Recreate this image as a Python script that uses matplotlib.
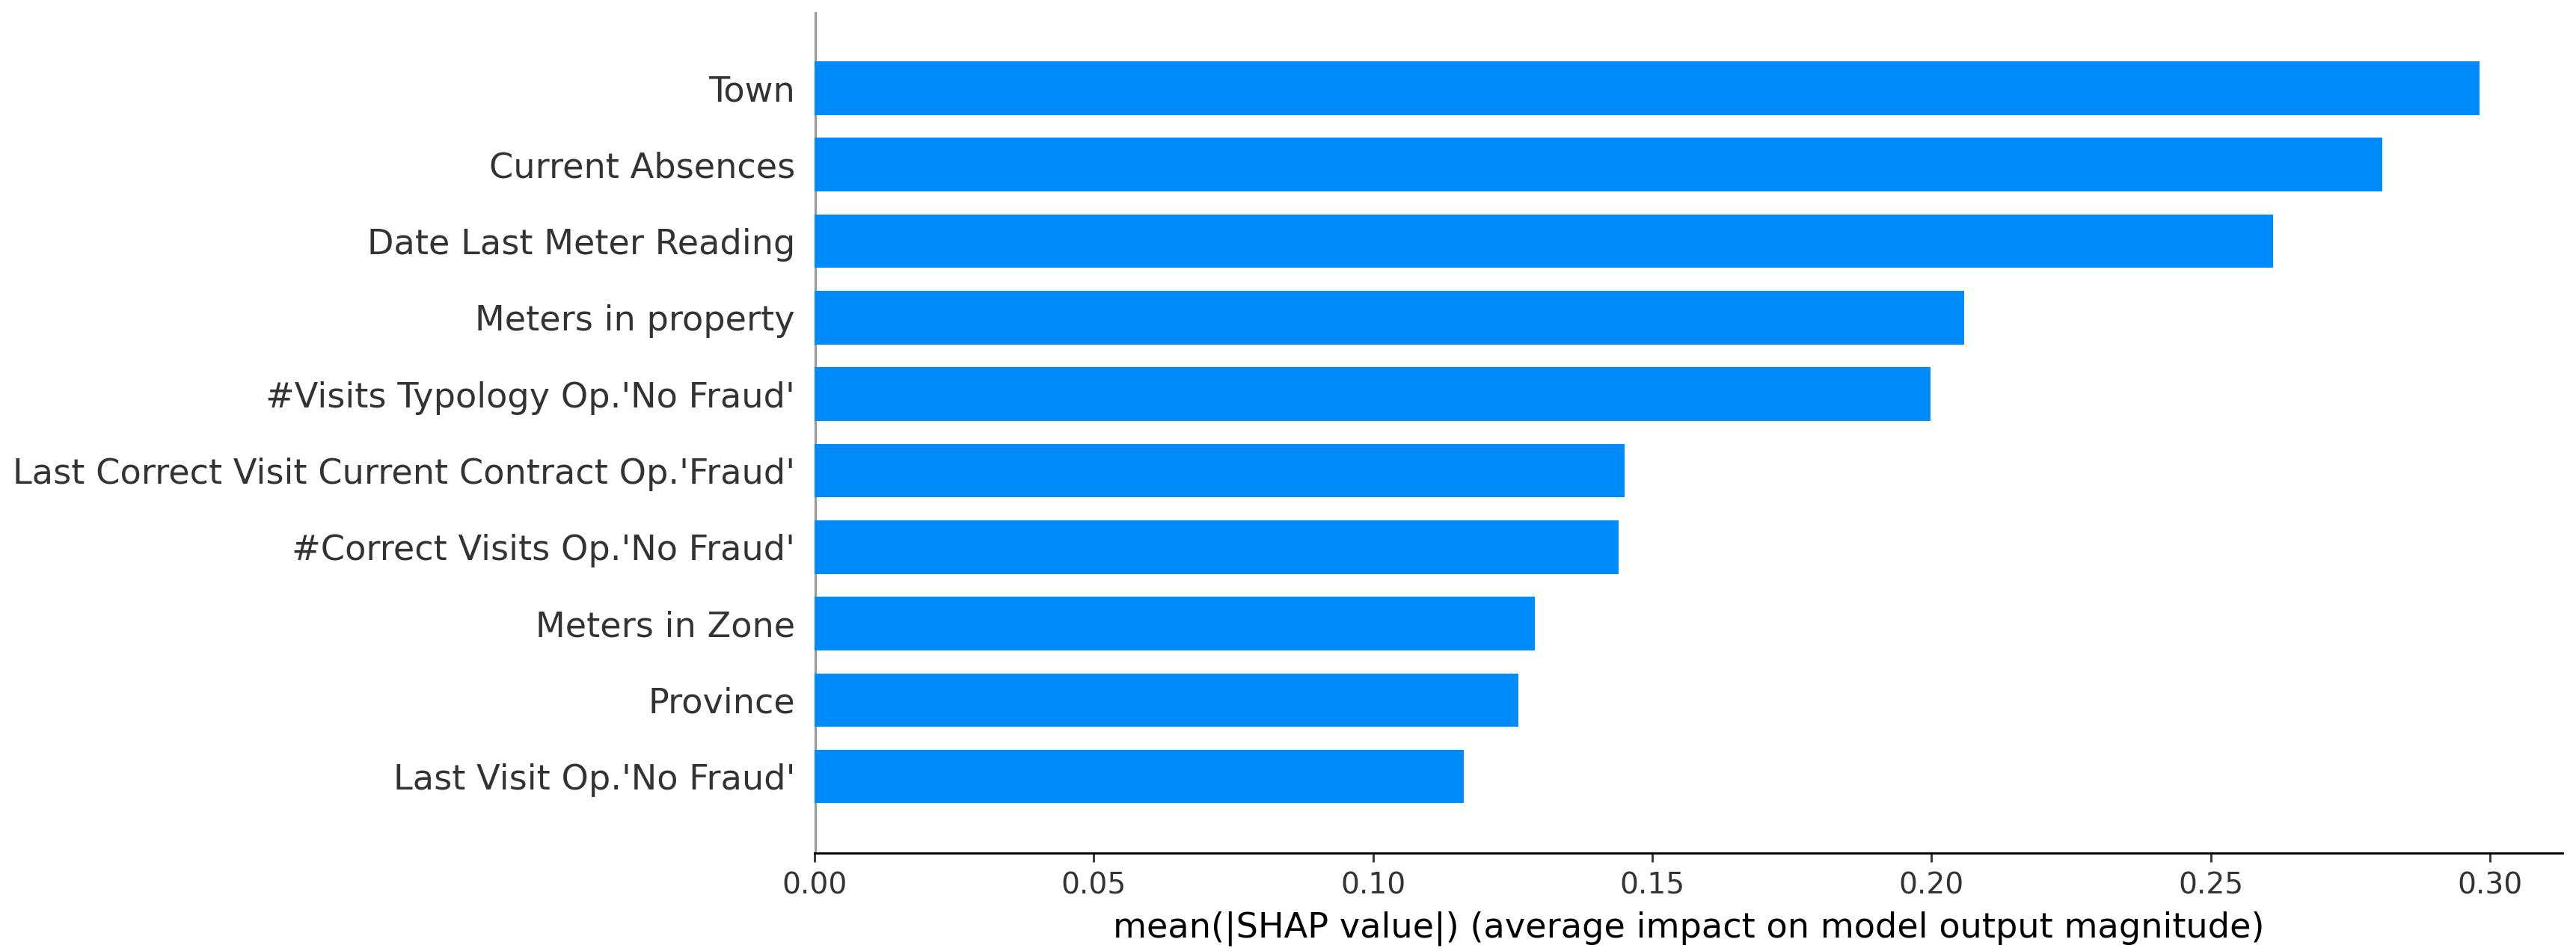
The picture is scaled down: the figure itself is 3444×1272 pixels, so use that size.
import matplotlib
matplotlib.use("Agg")
import matplotlib.pyplot as plt

# feature importance, top to bottom
features = [
    "Town",
    "Current Absences",
    "Date Last Meter Reading",
    "Meters in property",
    "#Visits Typology Op.'No Fraud'",
    "Last Correct Visit Current Contract Op.'Fraud'",
    "#Correct Visits Op.'No Fraud'",
    "Meters in Zone",
    "Province",
    "Last Visit Op.'No Fraud'",
]
mean_abs_shap = [0.2981, 0.2807, 0.2611, 0.2058, 0.1998, 0.1450, 0.1440, 0.1290, 0.1260, 0.1163]

axis_color = "#333333"
bar_color = "#008bfb"

dpi = 256
fig = plt.figure(figsize=(3444 / dpi, 1272 / dpi), dpi=dpi)
ax = fig.add_axes([0.3162, 0.1030, 0.6786, 0.8848])

n = len(features)
y_pos = [n - 1 - i for i in range(n)]
ax.barh(y_pos, mean_abs_shap, 0.7, align="center", color=bar_color)
ax.axvline(x=0, color="#999999", zorder=-1)

ax.set_yticks(y_pos)
ax.set_yticklabels(features, fontsize=13)
ax.set_ylim(-1, n)

ax.xaxis.set_ticks_position("bottom")
ax.yaxis.set_ticks_position("none")
ax.spines["right"].set_visible(False)
ax.spines["top"].set_visible(False)
ax.spines["left"].set_visible(False)
ax.tick_params(color=axis_color, labelcolor=axis_color)
ax.tick_params("y", length=0, pad=7.3)
ax.tick_params("x", labelsize=11)
ax.set_xlabel("mean(|SHAP value|) (average impact on model output magnitude)", fontsize=13)

fig.savefig("out.png", dpi=dpi)
